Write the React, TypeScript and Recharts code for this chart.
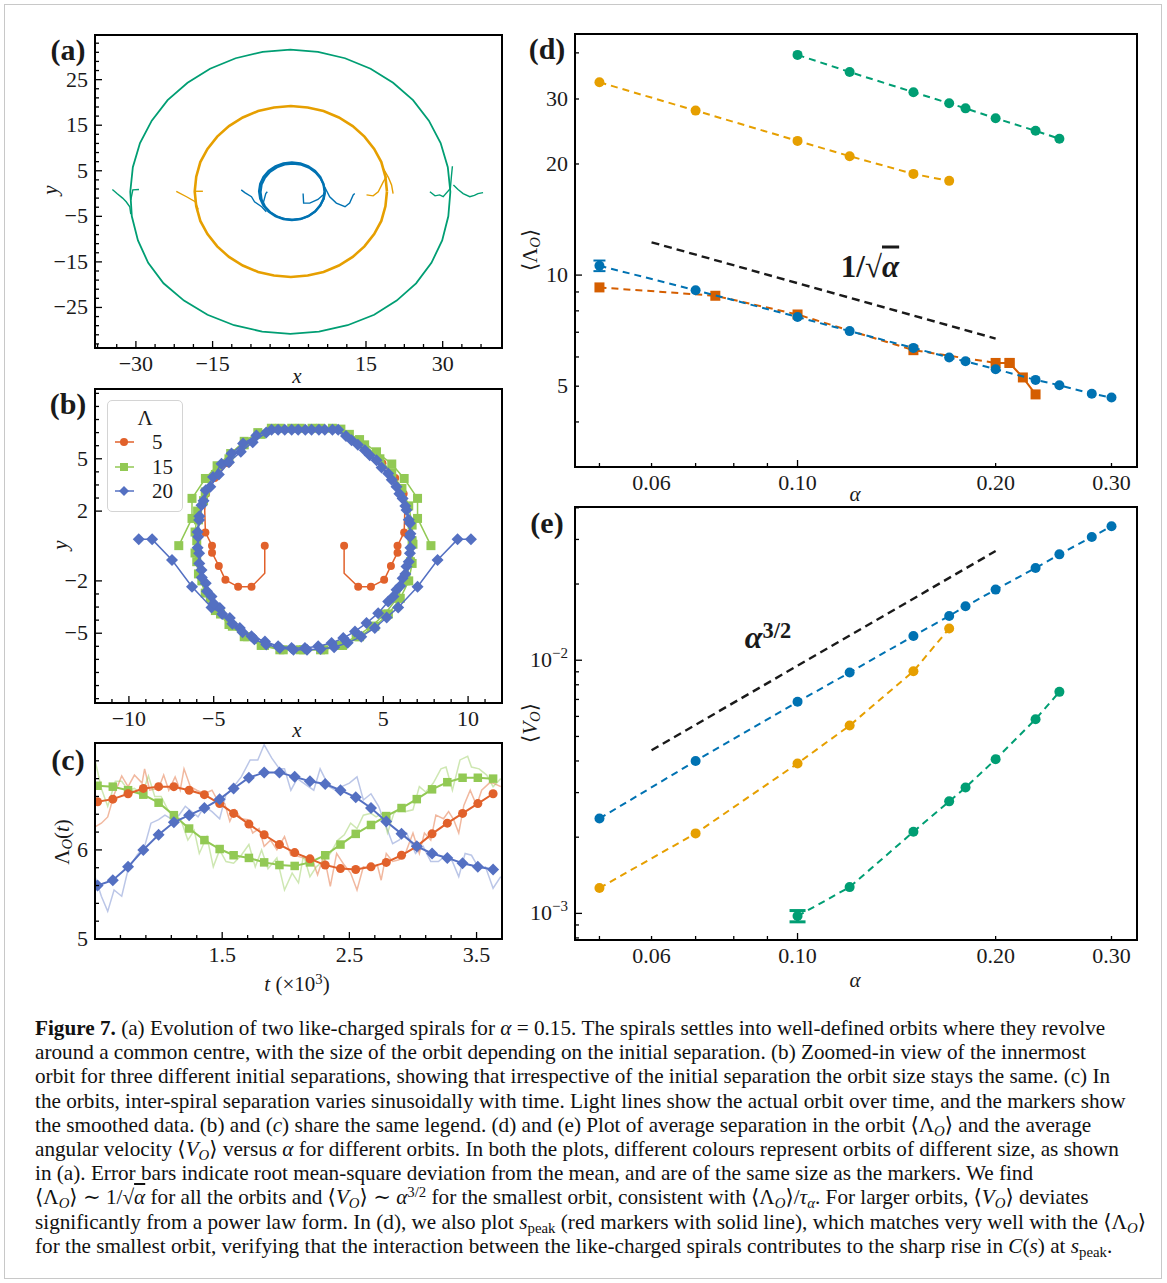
import React from 'react';
import { ScatterChart, Scatter, XAxis, YAxis, ReferenceLine, ErrorBar } from 'recharts';

const SERIF = '"Liberation Serif", "DejaVu Serif", serif';
const INK = '#1a1a1a';

// orbit colours (a, d, e)
const OI_GREEN = '#009E73';
const OI_ORANGE = '#E69F00';
const OI_BLUE = '#0072B2';
const OI_RED = '#D55E00';
// legend colours (b, c)
const C_RED = '#E1612B';
const C_GREEN = '#92C954';
const C_BLUE = '#5470C2';

type P = [number, number];
type PM = [number, number, number];

// ---------- (a) trajectories ----------
const greenRing: P[] = [[31.5,0.4],[31.0,5.8],[29.6,11.1],[27.3,16.0],[24.2,20.5],[20.3,24.3],[15.9,27.4],[10.9,29.7],[5.6,31.1],[0.2,31.6],[-5.2,31.1],[-10.5,29.7],[-15.5,27.4],[-19.9,24.3],[-23.8,20.5],[-26.9,16.0],[-29.2,11.1],[-30.6,5.8],[-31.1,0.4],[-30.8,-5.0],[-29.6,-10.3],[-27.6,-15.2],[-24.6,-19.7],[-20.6,-23.5],[-16.0,-26.6],[-10.8,-28.9],[-5.3,-30.3],[0.2,-30.8],[5.8,-30.3],[11.4,-28.9],[16.6,-26.6],[21.0,-23.5],[24.8,-19.7],[27.8,-15.2],[29.9,-10.3],[31.1,-5.0],[31.5,0.4]];
const greenTailL: P[] = [[-34.6,0.9],[-33.7,0.0],[-32.6,-1.0],[-31.9,-1.8],[-31.2,-2.9],[-31.0,-4.5]];
const greenHookL: P[] = [[-31.0,-1.4],[-30.6,0.8],[-29.4,0.9]];
const greenTailR1: P[] = [[27.5,0.4],[28.5,-0.5],[29.4,-0.3],[30.1,-0.7],[31.5,1.1],[31.7,3.7],[31.9,6.0]];
const greenTailR2: P[] = [[32.1,1.9],[33.0,0.9],[34.0,0.0],[35.3,-0.7],[36.2,-0.4],[36.9,0.0],[37.9,0.2]];

const orangeRing: P[] = [[19.1,0.45],[18.8,3.7],[18.0,6.9],[16.6,9.8],[14.7,12.5],[12.4,14.8],[9.7,16.7],[6.7,18.1],[3.6,18.9],[0.3,19.2],[-3.0,18.9],[-6.1,18.1],[-9.1,16.7],[-11.8,14.8],[-14.1,12.5],[-16.0,9.8],[-17.4,6.9],[-18.2,3.7],[-18.5,0.45],[-18.2,-2.8],[-17.4,-6.0],[-16.0,-8.9],[-14.1,-11.6],[-11.8,-13.9],[-9.1,-15.8],[-6.1,-17.2],[-3.0,-18.0],[0.3,-18.3],[3.6,-18.0],[6.7,-17.2],[9.7,-15.8],[12.4,-13.9],[14.7,-11.6],[16.6,-8.9],[18.0,-6.0],[18.8,-2.8],[19.1,0.45]];
const orangeTailL: P[] = [[-22.1,0.5],[-20.1,-0.7],[-18.4,-1.8],[-17.8,-3.5]];
const orangeHookL: P[] = [[-18.4,0.5],[-16.9,0.5]];
const orangeTailR1: P[] = [[15.1,-0.3],[16.4,-0.5],[17.4,0.4],[18.4,2.6],[19.0,3.7]];
const orangeTailR2: P[] = [[18.4,5.5],[19.4,3.5],[20.0,1.9],[20.3,0.0]];

const blueRing: P[] = [[6.9,0.5],[6.68,2.13],[6.04,3.65],[5.03,4.95],[3.7,5.96],[2.16,6.59],[0.5,6.8],[-1.16,6.59],[-2.7,5.96],[-4.03,4.95],[-5.04,3.65],[-5.68,2.13],[-5.9,0.5],[-5.68,-1.13],[-5.04,-2.65],[-4.03,-3.95],[-2.7,-4.96],[-1.16,-5.59],[0.5,-5.8],[2.16,-5.59],[3.7,-4.96],[5.03,-3.95],[6.04,-2.65],[6.68,-1.13],[6.9,0.5]];
const blueRing2: P[] = [[7.0,0.2],[6.75,1.8],[6.1,3.35],[5.15,4.6],[3.85,5.65],[2.35,6.3],[0.75,6.55],[-0.9,6.35],[-2.4,5.75],[-3.75,4.75],[-4.75,3.45],[-5.4,1.95],[-5.6,0.3],[-5.4,-1.3],[-4.75,-2.8],[-3.75,-4.05],[-2.4,-5.0],[-0.9,-5.6],[0.75,-5.75],[2.35,-5.55],[3.85,-4.9],[5.15,-3.85],[6.1,-2.5],[6.75,-1.2],[7.0,0.2]];
const blueTailL: P[] = [[-9.4,0.8],[-8.7,0.2],[-7.4,-0.7],[-6.8,-1.8],[-5.4,-2.9],[-4.5,-4.0]];
const blueHookL: P[] = [[-5.1,-2.1],[-4.6,0.0],[-4.3,0.4]];
const blueTailR1: P[] = [[2.7,0.0],[2.8,-2.1],[4.0,-2.1],[5.6,-1.3],[6.6,-0.3]];
const blueTailR2: P[] = [[6.9,1.5],[7.9,-0.7],[9.2,-2.1],[10.9,-2.9],[11.8,-2.1],[12.5,-0.3],[12.8,0.0]];

// ---------- (b) innermost orbit, three initial separations ----------
const redArcL: PM[] = [[-1.99,0.02,1],[-1.99,-1.56,0],[-2.77,-2.34,1],[-3.56,-2.34,1],[-4.31,-1.94,1],[-4.7,-1.14,1],[-5.1,-0.38,1],[-5.1,0.02,1],[-5.49,0.78,1],[-5.53,2.06,0],[-5.45,3.0,1],[-4.95,3.9,1],[-4.15,4.75,1]];
const redArcR: PM[] = [[2.69,0.02,1],[2.69,-1.56,0],[3.52,-2.34,1],[4.27,-2.34,1],[5.05,-1.94,1],[5.45,-1.14,1],[5.84,-0.38,1],[5.84,0.02,1],[6.23,0.78,1],[6.27,2.06,0],[6.2,3.0,1],[5.7,3.9,1],[4.95,4.75,1]];
const greenOrbitA: P[] = [[-7.06,0.02],[-6.28,1.58],[-6.28,2.73],[-5.49,3.87],[-4.8,4.6],[-4.0,5.3],[-3.2,6.0],[-2.4,6.5],[-1.6,6.75],[-0.4,6.75],[0.8,6.75],[2.0,6.75],[3.0,6.4],[3.9,5.8],[4.8,5.0],[5.5,4.2],[6.1,3.3],[6.5,2.3],[6.7,1.2],[6.75,0.1],[6.7,-1.0],[6.5,-2.0],[6.0,-3.0],[5.3,-3.9],[4.5,-4.6],[3.6,-5.2],[2.6,-5.7],[1.5,-5.95],[0.3,-5.95],[-0.9,-5.95],[-2.0,-5.7],[-3.0,-5.2],[-3.9,-4.6],[-4.6,-3.9],[-5.2,-3.0],[-5.7,-2.0],[-6.0,-0.9],[-6.0,0.3],[-5.9,1.5],[-5.6,2.6]];
const greenOrbitB: P[] = [[7.81,0.02],[7.02,1.58],[7.02,2.73],[6.23,3.87],[5.5,4.7],[4.6,5.4],[3.6,6.1],[2.5,6.7],[1.3,6.75],[0.1,6.75],[-1.1,6.75],[-2.2,6.4],[-3.2,5.8],[-4.1,5.0],[-4.9,4.1],[-5.5,3.1],[-5.95,2.0],[-6.1,0.8],[-6.1,-0.4],[-5.9,-1.6],[-5.5,-2.7],[-4.9,-3.7],[-4.1,-4.5],[-3.2,-5.2],[-2.2,-5.7],[-1.1,-5.95],[0.1,-5.95],[1.3,-5.95],[2.4,-5.7],[3.4,-5.2],[4.3,-4.6],[5.1,-3.9],[5.8,-3.0],[6.3,-2.0],[6.6,-0.9],[6.7,0.3]];
const blueOrbitA: P[] = [[-9.42,0.38],[-8.63,0.38],[-7.46,-0.8],[-6.28,-2.34],[-5.13,-3.52],[-4.05,-4.13],[-3.46,-4.7],[-2.77,-5.18],[-1.98,-5.47],[-1.2,-5.75],[-0.41,-5.85],[0.38,-5.85],[1.16,-5.75],[1.95,-5.56],[2.64,-5.28],[3.33,-4.9],[4.01,-4.42],[4.7,-3.85],[5.29,-3.18],[5.78,-2.51],[6.14,-1.85],[6.37,-1.18],[6.57,-0.42],[6.57,0.53],[6.57,1.3],[6.37,2.06],[6.14,2.72],[5.78,3.39],[5.29,4.15],[4.6,4.91],[3.91,5.49],[3.13,6.06],[2.34,6.67],[1.55,6.67],[0.77,6.67],[-0.02,6.67],[-0.81,6.67],[-1.59,6.67],[-2.48,6.34],[-3.27,5.87],[-3.95,5.3],[-4.54,4.72],[-5.04,3.96],[-5.47,3.2],[-5.72,2.34],[-5.86,1.49],[-5.92,0.53],[-5.86,-0.42],[-5.72,-1.37],[-5.47,-2.13],[-5.13,-2.9],[-4.64,-3.56]];
const blueOrbitB: P[] = [[10.17,0.38],[9.38,0.38],[8.2,-0.8],[7.02,-2.34],[5.88,-3.52],[5.2,-4.1],[4.5,-4.7],[3.7,-5.2],[2.9,-5.55],[2.1,-5.8],[1.3,-5.9],[0.5,-5.95],[-0.3,-5.95],[-1.1,-5.85],[-1.9,-5.65],[-2.6,-5.35],[-3.3,-4.95],[-3.9,-4.45],[-4.5,-3.9],[-5.0,-3.3],[-5.4,-2.6],[-5.7,-1.8],[-5.85,-1.0],[-5.95,-0.1],[-5.95,0.8],[-5.85,1.7],[-5.6,2.6],[-5.2,3.4],[-4.7,4.1],[-4.1,4.8],[-3.4,5.4],[-2.7,5.95],[-1.9,6.5],[-1.2,6.67],[-0.4,6.67],[0.4,6.67],[1.2,6.67],[2.0,6.67],[2.8,6.3],[3.5,5.8],[4.2,5.2],[4.9,4.5],[5.5,3.8],[5.95,3.0],[6.3,2.3],[6.5,1.5],[6.6,0.7],[6.6,-0.1],[6.5,-0.9],[6.3,-1.6],[6.0,-2.3],[5.6,-2.9]];

// ---------- (c) separation vs time ----------
const tSmooth = [0.52,0.64,0.76,0.88,1.0,1.12,1.24,1.36,1.48,1.59,1.71,1.83,1.95,2.07,2.19,2.31,2.43,2.55,2.67,2.79,2.91,3.03,3.15,3.27,3.39,3.51,3.63];
const redSmooth = [6.54,6.57,6.63,6.69,6.71,6.71,6.67,6.62,6.52,6.41,6.29,6.17,6.06,5.97,5.9,5.83,5.79,5.78,5.81,5.86,5.94,6.04,6.18,6.3,6.41,6.52,6.63];
const greenSmooth = [6.72,6.71,6.67,6.62,6.53,6.39,6.24,6.11,6.01,5.94,5.91,5.86,5.83,5.82,5.86,5.94,6.06,6.18,6.28,6.38,6.47,6.57,6.68,6.76,6.81,6.81,6.8];
const blueSmooth = [5.6,5.66,5.81,6.0,6.17,6.31,6.39,6.47,6.57,6.69,6.81,6.87,6.87,6.82,6.77,6.74,6.67,6.59,6.47,6.32,6.18,6.04,5.96,5.91,5.85,5.81,5.78];
const blueRaw: P[] = [[0.5,5.7],[0.55,5.48],[0.6,5.31],[0.65,5.55],[0.71,5.48],[0.76,5.78],[0.83,5.94],[0.89,6.04],[0.94,6.3],[1.0,6.34],[1.05,6.39],[1.11,6.34],[1.16,6.39],[1.21,6.49],[1.26,6.43],[1.31,6.37],[1.36,6.49],[1.42,6.43],[1.48,6.35],[1.53,6.62],[1.59,6.71],[1.65,6.82],[1.72,7.01],[1.78,7.01],[1.83,7.18],[1.89,7.03],[1.95,6.91],[1.99,6.91],[2.04,6.67],[2.09,6.8],[2.14,6.75],[2.22,6.67],[2.27,6.91],[2.34,6.71],[2.39,6.67],[2.44,6.71],[2.5,6.75],[2.56,6.82],[2.61,6.56],[2.67,6.63],[2.73,6.49],[2.78,6.3],[2.84,6.07],[2.89,6.11],[2.95,6.19],[3.02,5.96],[3.08,6.04],[3.14,5.87],[3.2,5.87],[3.26,5.94],[3.31,5.87],[3.36,5.7],[3.41,5.96],[3.46,5.94],[3.52,5.79],[3.57,5.81],[3.63,5.57],[3.69,5.7]];
const redRaw: P[] = [[0.5,6.26],[0.55,6.3],[0.6,6.37],[0.65,6.62],[0.71,6.83],[0.76,6.71],[0.81,6.84],[0.87,6.75],[0.89,6.91],[0.93,6.67],[1.0,6.69],[1.04,6.84],[1.08,6.67],[1.13,6.82],[1.17,6.67],[1.2,6.91],[1.25,6.71],[1.3,6.67],[1.36,6.63],[1.42,6.67],[1.47,6.54],[1.52,6.52],[1.56,6.32],[1.6,6.45],[1.65,6.35],[1.7,6.34],[1.74,6.19],[1.79,6.24],[1.83,6.04],[1.88,6.11],[1.93,6.0],[1.99,6.15],[2.04,5.94],[2.09,5.93],[2.14,5.91],[2.2,5.93],[2.25,5.72],[2.3,5.94],[2.35,5.59],[2.4,5.96],[2.46,5.83],[2.51,5.74],[2.56,5.55],[2.61,5.81],[2.67,5.78],[2.72,5.83],[2.75,5.66],[2.79,5.96],[2.84,5.87],[2.89,5.89],[2.94,5.96],[3.0,6.19],[3.05,5.96],[3.09,6.19],[3.14,6.11],[3.18,6.39],[3.24,6.35],[3.28,6.43],[3.32,6.34],[3.36,6.19],[3.4,6.5],[3.45,6.67],[3.5,6.5],[3.54,6.67],[3.6,6.75],[3.63,6.75],[3.69,6.71]];
const greenRaw: P[] = [[0.5,7.01],[0.55,6.69],[0.6,6.49],[0.66,6.77],[0.71,6.77],[0.76,6.67],[0.81,6.69],[0.87,6.62],[0.92,6.83],[0.97,6.6],[1.02,6.6],[1.08,6.43],[1.13,6.41],[1.18,6.32],[1.23,6.11],[1.28,6.22],[1.32,5.96],[1.38,6.15],[1.43,5.81],[1.48,6.0],[1.53,5.87],[1.59,5.85],[1.65,5.94],[1.71,6.06],[1.76,5.81],[1.81,6.0],[1.86,5.79],[1.93,5.91],[1.99,5.55],[2.05,5.74],[2.1,5.63],[2.14,5.94],[2.19,5.7],[2.24,5.81],[2.29,5.87],[2.35,5.96],[2.41,6.11],[2.46,6.17],[2.51,6.3],[2.56,6.24],[2.61,6.39],[2.67,6.41],[2.71,6.37],[2.76,6.41],[2.8,6.19],[2.85,6.41],[2.9,6.47],[2.94,6.43],[3.0,6.45],[3.05,6.71],[3.1,6.65],[3.16,6.75],[3.22,6.91],[3.26,6.93],[3.31,6.67],[3.37,7.01],[3.43,7.05],[3.46,6.93],[3.52,6.91],[3.58,6.84],[3.63,6.71],[3.69,6.8]];

// ---------- (d) mean separation, (e) mean angular velocity ----------
const alphaBlue = [0.05,0.07,0.1,0.12,0.15,0.17,0.18,0.2,0.23,0.25,0.28,0.3];
const lambdaBlue = [10.6,9.1,7.7,7.05,6.35,5.98,5.84,5.56,5.2,5.03,4.77,4.66];
const lambdaBlueErr = [0.35,0,0,0,0,0,0,0,0,0,0,0];
const alphaOrange = [0.05,0.07,0.1,0.12,0.15,0.17];
const lambdaOrange = [33.3,27.9,23.1,21.0,18.8,18.0];
const alphaGreen = [0.1,0.12,0.15,0.17,0.18,0.2,0.23,0.25];
const lambdaGreen = [39.5,35.5,31.3,29.2,28.3,26.6,24.6,23.4];
const alphaPeak = [0.05,0.075,0.1,0.15,0.2,0.21];
const sPeak = [9.26,8.79,7.82,6.26,5.78,5.78];
const alphaPeakEnd = [0.21,0.22,0.23];
const sPeakEnd = [5.78,5.28,4.75];

const vBlue = [2.37e-3,4.0e-3,6.85e-3,8.94e-3,1.247e-2,1.496e-2,1.633e-2,1.901e-2,2.314e-2,2.62e-2,3.07e-2,3.38e-2];
const vOrange = [1.26e-3,2.07e-3,3.91e-3,5.52e-3,9.05e-3,1.334e-2];
const vGreen = [9.76e-4,1.27e-3,2.1e-3,2.77e-3,3.14e-3,4.06e-3,5.85e-3,7.5e-3];
const vGreenErr = [5e-5,0,0,0,0,0,0,0];

// guide lines (1/sqrt(alpha) and alpha^{3/2})
const guideD = [{ x: 0.06, y: 12.27 }, { x: 0.2, y: 6.73 }];
const guideE = [{ x: 0.06, y: 4.41e-3 }, { x: 0.2, y: 2.7e-2 }];

// ---------- ticks ----------
const aXMajor = [-30, -15, 15, 30];
const aXMinor = [-37.5, -33.75, -26.25, -22.5, -18.75, -11.25, -7.5, -3.75, 0, 3.75, 7.5, 11.25, 18.75, 22.5, 26.25, 33.75, 37.5];
const aYMajor = [-25, -15, -5, 5, 15, 25];
const aYMinor = [-33, -31, -29, -27, -23, -21, -19, -17, -13, -11, -9, -7, -3, -1, 1, 3, 7, 9, 11, 13, 17, 19, 21, 23, 27, 29, 31, 33];
const bXMajor = [-10, -5, 5, 10];
const bXMinor = [-11, -9, -8, -7, -6, -4, -3, -2, -1, 0, 1, 2, 3, 4, 6, 7, 8, 9, 11];
const bYMajor = [-5, -2, 2, 5];
const bYMinor = [-8.75, -8, -7.25, -6.5, -5.75, -4.25, -3.5, -2.75, 2.75, 3.5, 4.25, 5.75, 6.5, 7.25, 8, 8.75];
const cXMajor = [1.5, 2.5, 3.5];
const cXMinor = [0.7, 0.9, 1.1, 1.3, 1.7, 1.9, 2.1, 2.3, 2.7, 2.9, 3.1, 3.3];
const cYMajor = [5, 6];
const cYMinor = [5.2, 5.4, 5.6, 5.8, 6.2, 6.4, 6.6, 6.8, 7.0];
const deXTicks = [0.05, 0.06, 0.07, 0.08, 0.09, 0.1, 0.2, 0.3];
const deXLabels = [0.06, 0.1, 0.2, 0.3];
const dYTicks = [4, 5, 6, 7, 8, 9, 10, 20, 30, 40];
const dYLabels = [5, 10, 20, 30];
const eYTicks = [8e-4, 9e-4, 1e-3, 2e-3, 3e-3, 4e-3, 5e-3, 6e-3, 7e-3, 8e-3, 9e-3, 1e-2, 2e-2, 3e-2, 4e-2];
const eYLabels = [1e-3, 1e-2];

const pts = (a: P[]) => a.map(([x, y]) => ({ x, y }));
const ptsM = (a: PM[]) => a.map(([x, y, m]) => ({ x, y, m }));
const zip = (xs: number[], ys: number[], es?: number[]) => xs.map((x, i) => ({ x, y: ys[i], e: es ? es[i] : 0 }));

const near = (a: number, b: number) => Math.abs(a - b) <= 1e-6 * Math.max(Math.abs(a), Math.abs(b), 1e-9);
const num = (v: number) => (v < 0 ? '\u2212' : '') + String(Math.abs(v));

const TICK_FONT = 22;

// tick renderers: ticks point inwards, majors longer
const xTick = (majors: number[], labelled: number[], label: (v: number) => React.ReactNode) => (p: any) => {
  const v = Number(p.payload.value);
  const big = majors.some((m) => near(m, v));
  const lab = labelled.some((m) => near(m, v));
  return (
    <g>
      <line x1={p.x} x2={p.x} y1={p.y} y2={p.y - (big ? 7 : 4)} stroke="#000" strokeWidth={1.3} />
      {lab && (
        <text x={p.x} y={p.y + 23} textAnchor="middle" fontFamily={SERIF} fontSize={TICK_FONT} fill={INK}>
          {label(v)}
        </text>
      )}
    </g>
  );
};
const yTick = (majors: number[], labelled: number[], label: (v: number) => React.ReactNode) => (p: any) => {
  const v = Number(p.payload.value);
  const big = majors.some((m) => near(m, v));
  const lab = labelled.some((m) => near(m, v));
  return (
    <g>
      <line x1={p.x} x2={p.x + (big ? 7 : 4)} y1={p.y} y2={p.y} stroke="#000" strokeWidth={1.3} />
      {lab && (
        <text x={p.x - 7} y={p.y + 7} textAnchor="end" fontFamily={SERIF} fontSize={TICK_FONT} fill={INK}>
          {label(v)}
        </text>
      )}
    </g>
  );
};
const powLabel = (v: number) => (
  <>
    <tspan>10</tspan>
    <tspan dy={-9} fontSize={15}>{'\u2212' + Math.round(-Math.log10(v))}</tspan>
  </>
);

// marker shapes
const noMark = () => <g />;
const dot = (r: number, c: string) => (p: any) =>
  p.payload && p.payload.m === 0 ? <g /> : <circle cx={p.cx} cy={p.cy} r={r} fill={c} />;
const square = (s: number, c: string) => (p: any) => <rect x={p.cx - s / 2} y={p.cy - s / 2} width={s} height={s} fill={c} />;
const diamond = (s: number, c: string) => (p: any) => (
  <path d={`M${p.cx},${p.cy - s}L${p.cx + s},${p.cy}L${p.cx},${p.cy + s}L${p.cx - s},${p.cy}Z`} fill={c} />
);

type Box = { l: number; t: number; r: number; b: number };
const boxA: Box = { l: 95, t: 35, r: 502, b: 348 };
const boxB: Box = { l: 95, t: 389, r: 502, b: 703 };
const boxC: Box = { l: 95, t: 743, r: 502, b: 939 };
const boxD: Box = { l: 575, t: 34, r: 1137, b: 467 };
const boxE: Box = { l: 575, t: 507, r: 1137, b: 940 };

// x axis band height: the chart adds ~10px of its own below the plot, so keep this at 40
const X_BAND = 40;

const Panel = ({ box, children }: { box: Box; children: React.ReactNode }) => (
  <>
    <div style={{ position: 'absolute', left: box.l - 70, top: box.t - 10 }}>
      <ScatterChart width={box.r - box.l + 80} height={box.b - box.t + 60} margin={{ top: 10, right: 10, bottom: 10, left: 0 }}>
        {children}
      </ScatterChart>
    </div>
    <div
      style={{
        position: 'absolute', left: box.l - 1, top: box.t - 1, width: box.r - box.l + 2, height: box.b - box.t + 2,
        border: '2px solid #000', boxSizing: 'border-box', pointerEvents: 'none',
      }}
    />
  </>
);

const Txt = ({ x, y, rot = 0, size = 20, bold = false, italic = false, children }: any) => (
  <div
    style={{
      position: 'absolute', left: x, top: y, transform: `translate(-50%, -50%) rotate(${rot}deg)`,
      fontFamily: SERIF, fontSize: size, fontWeight: bold ? 700 : 400, fontStyle: italic ? 'italic' : 'normal',
      whiteSpace: 'nowrap', lineHeight: 1, color: INK,
    }}
  >
    {children}
  </div>
);

const Sub = ({ children }: any) => <span style={{ fontSize: '0.7em', verticalAlign: '-0.25em', lineHeight: 0 }}>{children}</span>;
const Sup = ({ children }: any) => <span style={{ fontSize: '0.7em', verticalAlign: '0.45em', lineHeight: 0 }}>{children}</span>;

const lineOnly = (data: P[], color: string, w: number, key: string) => (
  <Scatter key={key} data={pts(data)} shape={noMark} line={{ stroke: color, strokeWidth: w }} lineType="joint" isAnimationActive={false} />
);

const LegendB = () => {
  const rows = [
    { label: '5', y: 42, mark: <circle cx={17} cy={42} r={4} fill={C_RED} />, c: C_RED },
    { label: '15', y: 67, mark: <rect x={13} y={63} width={8} height={8} fill={C_GREEN} />, c: C_GREEN },
    { label: '20', y: 91, mark: <path d="M17,86L22,91L17,96L12,91Z" fill={C_BLUE} />, c: C_BLUE },
  ];
  return (
    <div style={{ position: 'absolute', left: 107, top: 400, width: 76, height: 112, border: '1.5px solid #d4d4d4', borderRadius: 5, background: '#fff', boxSizing: 'border-box' }}>
      <svg width={76} height={112} style={{ position: 'absolute', left: -1.5, top: -1.5 }}>
        <text x={38} y={25} textAnchor="middle" fontFamily={SERIF} fontSize={21} fill={INK}>Λ</text>
        {rows.map((r) => (
          <g key={r.label}>
            <line x1={8} x2={27} y1={r.y} y2={r.y} stroke={r.c} strokeWidth={1.5} />
            {r.mark}
            <text x={45} y={r.y + 7} fontFamily={SERIF} fontSize={21} fill={INK}>{r.label}</text>
          </g>
        ))}
      </svg>
    </div>
  );
};

const axisCommon = { type: 'number' as const, allowDataOverflow: true, interval: 0 as const, tickLine: false, axisLine: false, tickSize: 0, tickMargin: 0 };

const captionLines: React.ReactNode[] = [
  <><b>Figure 7.</b> (a) Evolution of two like-charged spirals for <i>α</i> = 0.15. The spirals settles into well-defined orbits where they revolve</>,
  <>around a common centre, with the size of the orbit depending on the initial separation. (b) Zoomed-in view of the innermost</>,
  <>orbit for three different initial separations, showing that irrespective of the initial separation the orbit size stays the same. (c) In</>,
  <>the orbits, inter-spiral separation varies sinusoidally with time. Light lines show the actual orbit over time, and the markers show</>,
  <>the smoothed data. (b) and (<i>c</i>) share the same legend. (d) and (e) Plot of average separation in the orbit ⟨Λ<Sub><i>O</i></Sub>⟩ and the average</>,
  <>angular velocity ⟨<i>V</i><Sub><i>O</i></Sub>⟩ versus <i>α</i> for different orbits. In both the plots, different colours represent orbits of different size, as shown</>,
  <>in (a). Error bars indicate root mean-square deviation from the mean, and are of the same size as the markers. We find</>,
  <>⟨Λ<Sub><i>O</i></Sub>⟩ ∼ 1/√<span style={{ textDecoration: 'overline' }}><i>α</i></span> for all the orbits and ⟨<i>V</i><Sub><i>O</i></Sub>⟩ ∼ <i>α</i><Sup>3/2</Sup> for the smallest orbit, consistent with ⟨Λ<Sub><i>O</i></Sub>⟩/<i>τ</i><Sub><i>α</i></Sub>. For larger orbits, ⟨<i>V</i><Sub><i>O</i></Sub>⟩ deviates</>,
  <>significantly from a power law form. In (d), we also plot <i>s</i><Sub>peak</Sub> (red markers with solid line), which matches very well with the ⟨Λ<Sub><i>O</i></Sub>⟩</>,
  <>for the smallest orbit, verifying that the interaction between the like-charged spirals contributes to the sharp rise in <i>C</i>(<i>s</i>) at <i>s</i><Sub>peak</Sub>.</>,
];

export default function App() {
  return (
    <div style={{ position: 'absolute', left: 0, top: 0, width: 1167, height: 1283, background: '#fff', overflow: 'hidden' }}>
      <div style={{ position: 'absolute', left: 4, top: 4, width: 1158, height: 1275, border: '1px solid #c8c8c8', boxSizing: 'border-box' }} />

      {/* (a) */}
      <Panel box={boxA}>
        <XAxis {...axisCommon} dataKey="x" domain={[-38, 41.6]} ticks={[...aXMajor, ...aXMinor]} height={X_BAND} tick={xTick(aXMajor, aXMajor, num)} />
        <YAxis {...axisCommon} dataKey="y" domain={[-33.9, 34.8]} ticks={[...aYMajor, ...aYMinor]} width={70} tick={yTick(aYMajor, aYMajor, num)} />
        {lineOnly(greenRing, OI_GREEN, 1.8, 'gr')}
        {lineOnly(greenTailL, OI_GREEN, 1.4, 'gtl')}
        {lineOnly(greenHookL, OI_GREEN, 1.4, 'ghl')}
        {lineOnly(greenTailR1, OI_GREEN, 1.4, 'gtr1')}
        {lineOnly(greenTailR2, OI_GREEN, 1.4, 'gtr2')}
        {lineOnly(orangeRing, OI_ORANGE, 2.6, 'or')}
        {lineOnly(orangeTailL, OI_ORANGE, 1.4, 'otl')}
        {lineOnly(orangeHookL, OI_ORANGE, 1.4, 'ohl')}
        {lineOnly(orangeTailR1, OI_ORANGE, 1.4, 'otr1')}
        {lineOnly(orangeTailR2, OI_ORANGE, 1.4, 'otr2')}
        {lineOnly(blueRing, OI_BLUE, 2.4, 'br')}
        {lineOnly(blueRing2, OI_BLUE, 2.0, 'br2')}
        {lineOnly(blueTailL, OI_BLUE, 1.4, 'btl')}
        {lineOnly(blueHookL, OI_BLUE, 1.4, 'bhl')}
        {lineOnly(blueTailR1, OI_BLUE, 1.4, 'btr1')}
        {lineOnly(blueTailR2, OI_BLUE, 1.4, 'btr2')}
      </Panel>

      {/* (b) */}
      <Panel box={boxB}>
        <XAxis {...axisCommon} dataKey="x" domain={[-12, 12]} ticks={[...bXMajor, ...bXMinor]} height={X_BAND} tick={xTick(bXMajor, bXMajor, num)} />
        <YAxis {...axisCommon} dataKey="y" domain={[-9, 9]} ticks={[...bYMajor, ...bYMinor]} width={70} tick={yTick(bYMajor, bYMajor, num)} />
        <Scatter data={ptsM(redArcL)} shape={dot(4, C_RED)} line={{ stroke: C_RED, strokeWidth: 1.5 }} lineType="joint" isAnimationActive={false} />
        <Scatter data={ptsM(redArcR)} shape={dot(4, C_RED)} line={{ stroke: C_RED, strokeWidth: 1.5 }} lineType="joint" isAnimationActive={false} />
        <Scatter data={pts(greenOrbitA)} shape={square(9, C_GREEN)} line={{ stroke: C_GREEN, strokeWidth: 1.5 }} lineType="joint" isAnimationActive={false} />
        <Scatter data={pts(greenOrbitB)} shape={square(9, C_GREEN)} line={{ stroke: C_GREEN, strokeWidth: 1.5 }} lineType="joint" isAnimationActive={false} />
        <Scatter data={pts(blueOrbitA)} shape={diamond(6, C_BLUE)} line={{ stroke: C_BLUE, strokeWidth: 1.5 }} lineType="joint" isAnimationActive={false} />
        <Scatter data={pts(blueOrbitB)} shape={diamond(6, C_BLUE)} line={{ stroke: C_BLUE, strokeWidth: 1.5 }} lineType="joint" isAnimationActive={false} />
      </Panel>
      <LegendB />

      {/* (c) */}
      <Panel box={boxC}>
        <XAxis {...axisCommon} dataKey="x" domain={[0.5, 3.7]} ticks={[...cXMajor, ...cXMinor]} height={X_BAND} tick={xTick(cXMajor, cXMajor, (v) => v.toFixed(1))} />
        <YAxis {...axisCommon} dataKey="y" domain={[5, 7.2]} ticks={[...cYMajor, ...cYMinor]} width={70} tick={yTick(cYMajor, cYMajor, num)} />
        <Scatter data={pts(blueRaw)} shape={noMark} line={{ stroke: C_BLUE, strokeWidth: 1.5, strokeOpacity: 0.4 }} lineType="joint" isAnimationActive={false} />
        <Scatter data={pts(redRaw)} shape={noMark} line={{ stroke: C_RED, strokeWidth: 1.5, strokeOpacity: 0.45 }} lineType="joint" isAnimationActive={false} />
        <Scatter data={pts(greenRaw)} shape={noMark} line={{ stroke: C_GREEN, strokeWidth: 1.5, strokeOpacity: 0.45 }} lineType="joint" isAnimationActive={false} />
        <Scatter data={zip(tSmooth, greenSmooth)} shape={square(8.5, C_GREEN)} line={{ stroke: C_GREEN, strokeWidth: 2 }} lineType="joint" isAnimationActive={false} />
        <Scatter data={zip(tSmooth, redSmooth)} shape={dot(4.5, C_RED)} line={{ stroke: C_RED, strokeWidth: 2 }} lineType="joint" isAnimationActive={false} />
        <Scatter data={zip(tSmooth, blueSmooth)} shape={diamond(6, C_BLUE)} line={{ stroke: C_BLUE, strokeWidth: 2 }} lineType="joint" isAnimationActive={false} />
      </Panel>

      {/* (d) */}
      <Panel box={boxD}>
        <XAxis {...axisCommon} dataKey="x" scale="log" domain={[0.0459, 0.328]} ticks={deXTicks} height={X_BAND} tick={xTick([0.1], deXLabels, (v) => v.toFixed(2))} />
        <YAxis {...axisCommon} dataKey="y" scale="log" domain={[3.02, 45]} ticks={dYTicks} width={70} tick={yTick([10], dYLabels, num)} />
        <ReferenceLine segment={guideD} stroke="#1a1a1a" strokeWidth={2.4} strokeDasharray="8 5" ifOverflow="visible" />
        <Scatter data={zip(alphaOrange, lambdaOrange)} shape={dot(5, OI_ORANGE)} line={{ stroke: OI_ORANGE, strokeWidth: 2, strokeDasharray: '7 5' }} lineType="joint" isAnimationActive={false} />
        <Scatter data={zip(alphaGreen, lambdaGreen)} shape={dot(5, OI_GREEN)} line={{ stroke: OI_GREEN, strokeWidth: 2, strokeDasharray: '7 5' }} lineType="joint" isAnimationActive={false} />
        <Scatter data={zip(alphaPeak, sPeak)} shape={square(10, OI_RED)} line={{ stroke: OI_RED, strokeWidth: 2, strokeDasharray: '7 5' }} lineType="joint" isAnimationActive={false} />
        <Scatter data={zip(alphaPeakEnd, sPeakEnd)} shape={square(10, OI_RED)} line={{ stroke: OI_RED, strokeWidth: 2 }} lineType="joint" isAnimationActive={false} />
        <Scatter data={zip(alphaBlue, lambdaBlue, lambdaBlueErr)} shape={dot(5, OI_BLUE)} line={{ stroke: OI_BLUE, strokeWidth: 2, strokeDasharray: '7 5' }} lineType="joint" isAnimationActive={false}>
          <ErrorBar dataKey="e" direction="y" width={6} stroke={OI_BLUE} strokeWidth={2} />
        </Scatter>
      </Panel>

      {/* (e) */}
      <Panel box={boxE}>
        <XAxis {...axisCommon} dataKey="x" scale="log" domain={[0.0459, 0.328]} ticks={deXTicks} height={X_BAND} tick={xTick([0.1], deXLabels, (v) => v.toFixed(2))} />
        <YAxis {...axisCommon} dataKey="y" scale="log" domain={[7.85e-4, 0.0403]} ticks={eYTicks} width={70} tick={yTick(eYLabels, eYLabels, powLabel)} />
        <ReferenceLine segment={guideE} stroke="#1a1a1a" strokeWidth={2.4} strokeDasharray="8 5" ifOverflow="visible" />
        <Scatter data={zip(alphaBlue, vBlue)} shape={dot(5, OI_BLUE)} line={{ stroke: OI_BLUE, strokeWidth: 2, strokeDasharray: '7 5' }} lineType="joint" isAnimationActive={false} />
        <Scatter data={zip(alphaOrange, vOrange)} shape={dot(5, OI_ORANGE)} line={{ stroke: OI_ORANGE, strokeWidth: 2, strokeDasharray: '7 5' }} lineType="joint" isAnimationActive={false} />
        <Scatter data={zip(alphaGreen, vGreen, vGreenErr)} shape={dot(5, OI_GREEN)} line={{ stroke: OI_GREEN, strokeWidth: 2, strokeDasharray: '7 5' }} lineType="joint" isAnimationActive={false}>
          <ErrorBar dataKey="e" direction="y" width={8} stroke={OI_GREEN} strokeWidth={3} />
        </Scatter>
      </Panel>

      {/* panel letters */}
      <Txt x={68} y={50} size={30} bold>(a)</Txt>
      <Txt x={68} y={404} size={30} bold>(b)</Txt>
      <Txt x={68} y={760} size={30} bold>(c)</Txt>
      <Txt x={547} y={49} size={30} bold>(d)</Txt>
      <Txt x={547} y={523} size={30} bold>(e)</Txt>

      {/* axis titles */}
      <Txt x={50} y={190} rot={-90} italic size={21}>y</Txt>
      <Txt x={297} y={376} italic size={21}>x</Txt>
      <Txt x={60} y={545} rot={-90} italic size={21}>y</Txt>
      <Txt x={297} y={730} italic size={21}>x</Txt>
      <Txt x={62} y={842} rot={-90} size={21}>Λ<Sub><i>O</i></Sub>(<i>t</i>)</Txt>
      <Txt x={297} y={984} size={21}><i>t</i> (×10<Sup>3</Sup>)</Txt>
      <Txt x={530} y={250} rot={-90} size={21}>⟨Λ<Sub><i>O</i></Sub>⟩</Txt>
      <Txt x={855} y={494} italic size={21}>α</Txt>
      <Txt x={530} y={723} rot={-90} size={21}>⟨<i>V</i><Sub><i>O</i></Sub>⟩</Txt>
      <Txt x={855} y={980} italic size={21}>α</Txt>

      {/* annotations */}
      <Txt x={870} y={266} size={31} bold>1/√<span style={{ textDecoration: 'overline' }}><i>α</i></span></Txt>
      <Txt x={768} y={637} size={32} bold><i>α</i><Sup>3/2</Sup></Txt>

      {/* caption */}
      <div style={{ position: 'absolute', left: 35, top: 1016, fontFamily: SERIF, fontSize: 21.2, color: '#111' }}>
        {captionLines.map((l, i) => (
          <div key={i} style={{ height: 24.2, lineHeight: '24.2px', whiteSpace: 'nowrap' }}>{l}</div>
        ))}
      </div>
    </div>
  );
}
